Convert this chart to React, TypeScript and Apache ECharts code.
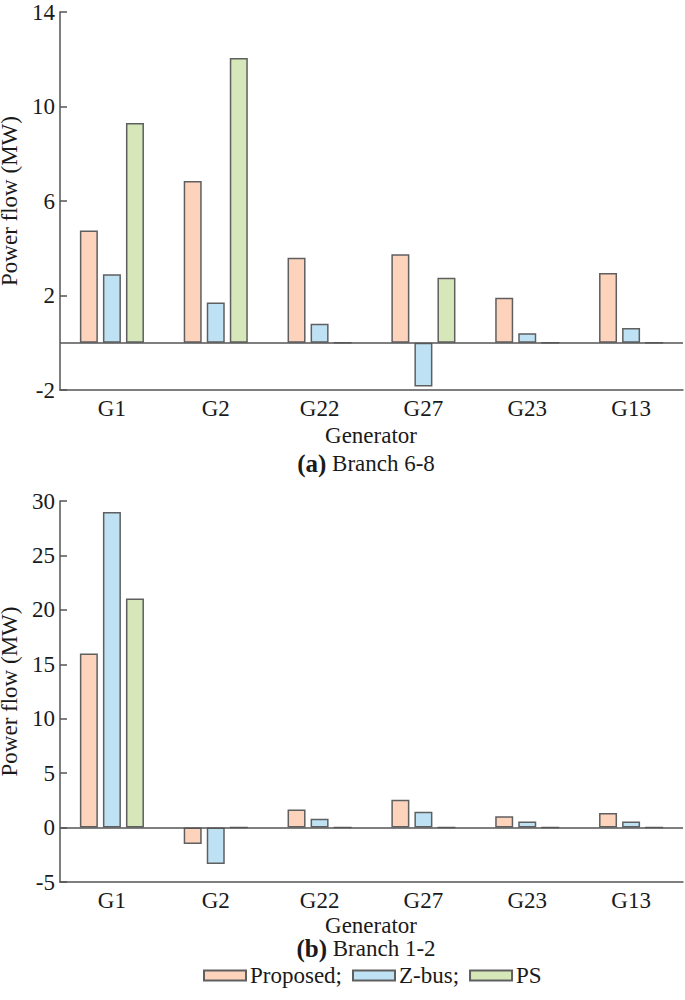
import React, { useEffect, useRef } from "react";
import * as echarts from "echarts";

const categories = ["G1", "G2", "G22", "G27", "G23", "G13"];
const seriesNames = ["Proposed", "Z-bus", "PS"];

// (a) Branch 6-8
const topProposed = [4.75, 6.85, 3.6, 3.75, 1.9, 2.95];
const topZbus = [2.9, 1.7, 0.8, -1.85, 0.4, 0.62];
const topPS = [9.3, 12.05, 0, 2.75, 0, 0];

// (b) Branch 1-2
const bottomProposed = [16.0, -1.5, 1.65, 2.55, 1.05, 1.35];
const bottomZbus = [29.0, -3.35, 0.8, 1.45, 0.55, 0.55];
const bottomPS = [21.05, 0, 0, 0, 0, 0];

const topTicks = [-2, 2, 6, 10, 14];
const bottomTicks = [-5, 0, 5, 10, 15, 20, 25, 30];

const colors = ["#FDD3BC", "#BEE2F4", "#D6E8BA"];
const FONT = "Liberation Serif";
const AXIS = "#555555";
const TEXT = "#1a1a1a";
const FS = 23;

export default function App() {
  const ref = useRef<HTMLDivElement>(null);
  useEffect(() => {
    document.body.style.margin = "0";
    const chart = echarts.init(ref.current!, null, { renderer: "svg" });

    const makeX = (gridIndex: number) => ({
      type: "category",
      gridIndex,
      data: categories,
      axisLine: { onZero: false, lineStyle: { color: AXIS, width: 1.5 } },
      axisTick: { inside: true, length: 6, lineStyle: { color: AXIS, width: 1.5 } },
      axisLabel: { color: TEXT, fontFamily: FONT, fontSize: FS, margin: 7 },
      splitLine: { show: false },
    });
    const makeY = (gridIndex: number, min: number, max: number, interval: number) => ({
      type: "value",
      gridIndex,
      min,
      max,
      interval,
      name: "Power flow (MW)",
      nameLocation: "middle",
      nameGap: 31,
      nameTextStyle: { color: TEXT, fontFamily: FONT, fontSize: FS, lineHeight: 22 },
      axisLine: { show: true, lineStyle: { color: AXIS, width: 1.5 } },
      axisTick: { show: true, inside: true, length: 7, lineStyle: { color: AXIS, width: 1.5 } },
      axisLabel: { color: TEXT, fontFamily: FONT, fontSize: FS, margin: 5, lineHeight: 20 },
      splitLine: { show: false },
    });

    const dataSets = [
      [topProposed, topZbus, topPS],
      [bottomProposed, bottomZbus, bottomPS],
    ];
    const series: any[] = [];
    dataSets.forEach((sets, g) => {
      sets.forEach((d, i) => {
        const s: any = {
          type: "bar",
          name: seriesNames[i],
          xAxisIndex: g,
          yAxisIndex: g,
          data: d,
          barWidth: 18,
          barGap: "28%",
          itemStyle: { color: colors[i], borderColor: "#5f5f5f", borderWidth: 1.5 },
        };
        if (i === 0) {
          s.markLine = {
            silent: true,
            symbol: "none",
            label: { show: false },
            lineStyle: { color: AXIS, width: 1.5, type: "solid" },
            data: [{ yAxis: 0 }],
          };
        }
        series.push(s);
      });
    });

    const caption = (x: number, y: number, text: string) => ({
      type: "text",
      x,
      y,
      style: {
        text,
        fill: TEXT,
        fontFamily: FONT,
        fontSize: FS,
        textAlign: "center",
        textVerticalAlign: "middle",
        rich: {
          b: { fontFamily: FONT, fontSize: 25, fontWeight: "bold", fill: TEXT },
          n: { fontFamily: FONT, fontSize: FS, fill: TEXT },
        },
      },
    });

    chart.setOption({
      animation: false,
      backgroundColor: "#ffffff",
      grid: [
        { left: 60, right: 2, top: 12, height: 378, containLabel: false, outerBoundsMode: "none" },
        { left: 60, right: 2, top: 501, height: 381, containLabel: false, outerBoundsMode: "none" },
      ],
      xAxis: [makeX(0), makeX(1)],
      yAxis: [
        makeY(0, topTicks[0], topTicks[topTicks.length - 1], 4),
        makeY(1, bottomTicks[0], bottomTicks[bottomTicks.length - 1], 5),
      ],
      legend: {
        left: 198,
        top: 959,
        itemWidth: 42,
        itemHeight: 10,
        itemGap: 10,
        icon: "rect",
        data: seriesNames,
        formatter: (n: string) => (n === "PS" ? n : n + ";"),
        textStyle: { color: TEXT, fontFamily: FONT, fontSize: FS, padding: [0, 0, 0, -1] },
      },
      graphic: [
        caption(371, 435, "{n|Generator}"),
        caption(366, 463, "{b|(a)}{n| Branch 6-8}"),
        caption(371, 925, "{n|Generator}"),
        caption(366, 948, "{b|(b)}{n| Branch 1-2}"),
      ],
      series,
    });
    return () => chart.dispose();
  }, []);
  return <div ref={ref} style={{ width: 685, height: 1000 }} />;
}
